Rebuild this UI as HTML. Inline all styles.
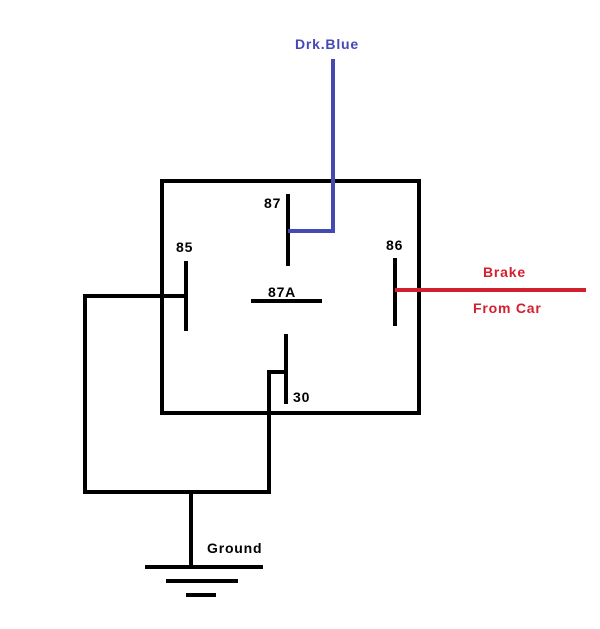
<!DOCTYPE html>
<html><head><meta charset="utf-8"><style>
html,body{margin:0;padding:0;background:#fff;}
svg{display:block;}
text{font-family:"Liberation Sans",Arial,sans-serif;font-weight:bold;font-size:14px;letter-spacing:0.8px;}
</style></head><body>
<svg width="600" height="629" viewBox="0 0 600 629" xmlns="http://www.w3.org/2000/svg">
<g stroke="#000" stroke-width="4" fill="none" stroke-linecap="square">
<rect x="162" y="181" width="257" height="232"/>
<line x1="288" y1="196" x2="288" y2="264"/>
<line x1="186" y1="263" x2="186" y2="329"/>
<line x1="253" y1="301" x2="320" y2="301"/>
<line x1="395" y1="260" x2="395" y2="324"/>
<line x1="286" y1="336" x2="286" y2="402"/>
<polyline points="186,296 85,296 85,492 269,492 269,372 286,372"/>
<line x1="191" y1="492" x2="191" y2="566"/>
<line x1="147" y1="567" x2="261" y2="567"/>
<line x1="168" y1="581" x2="236" y2="581"/>
<line x1="188" y1="595" x2="214" y2="595"/>
</g>
<polyline points="288,231 333,231 333,59" stroke="#4449b3" stroke-width="4" fill="none"/>
<line x1="395" y1="290" x2="586" y2="290" stroke="#d2202f" stroke-width="4"/>
<g fill="#000">
<text x="264" y="208">87</text>
<text x="176" y="252">85</text>
<text x="386" y="250">86</text>
<text x="268" y="297">87A</text>
<text x="293" y="402">30</text>
<text x="207" y="553">Ground</text>
</g>
<text x="295" y="49" fill="#4449b3">Drk.Blue</text>
<text x="483" y="277" fill="#d2202f">Brake</text>
<text x="473" y="313" fill="#d2202f">From Car</text>
</svg>
</body></html>
